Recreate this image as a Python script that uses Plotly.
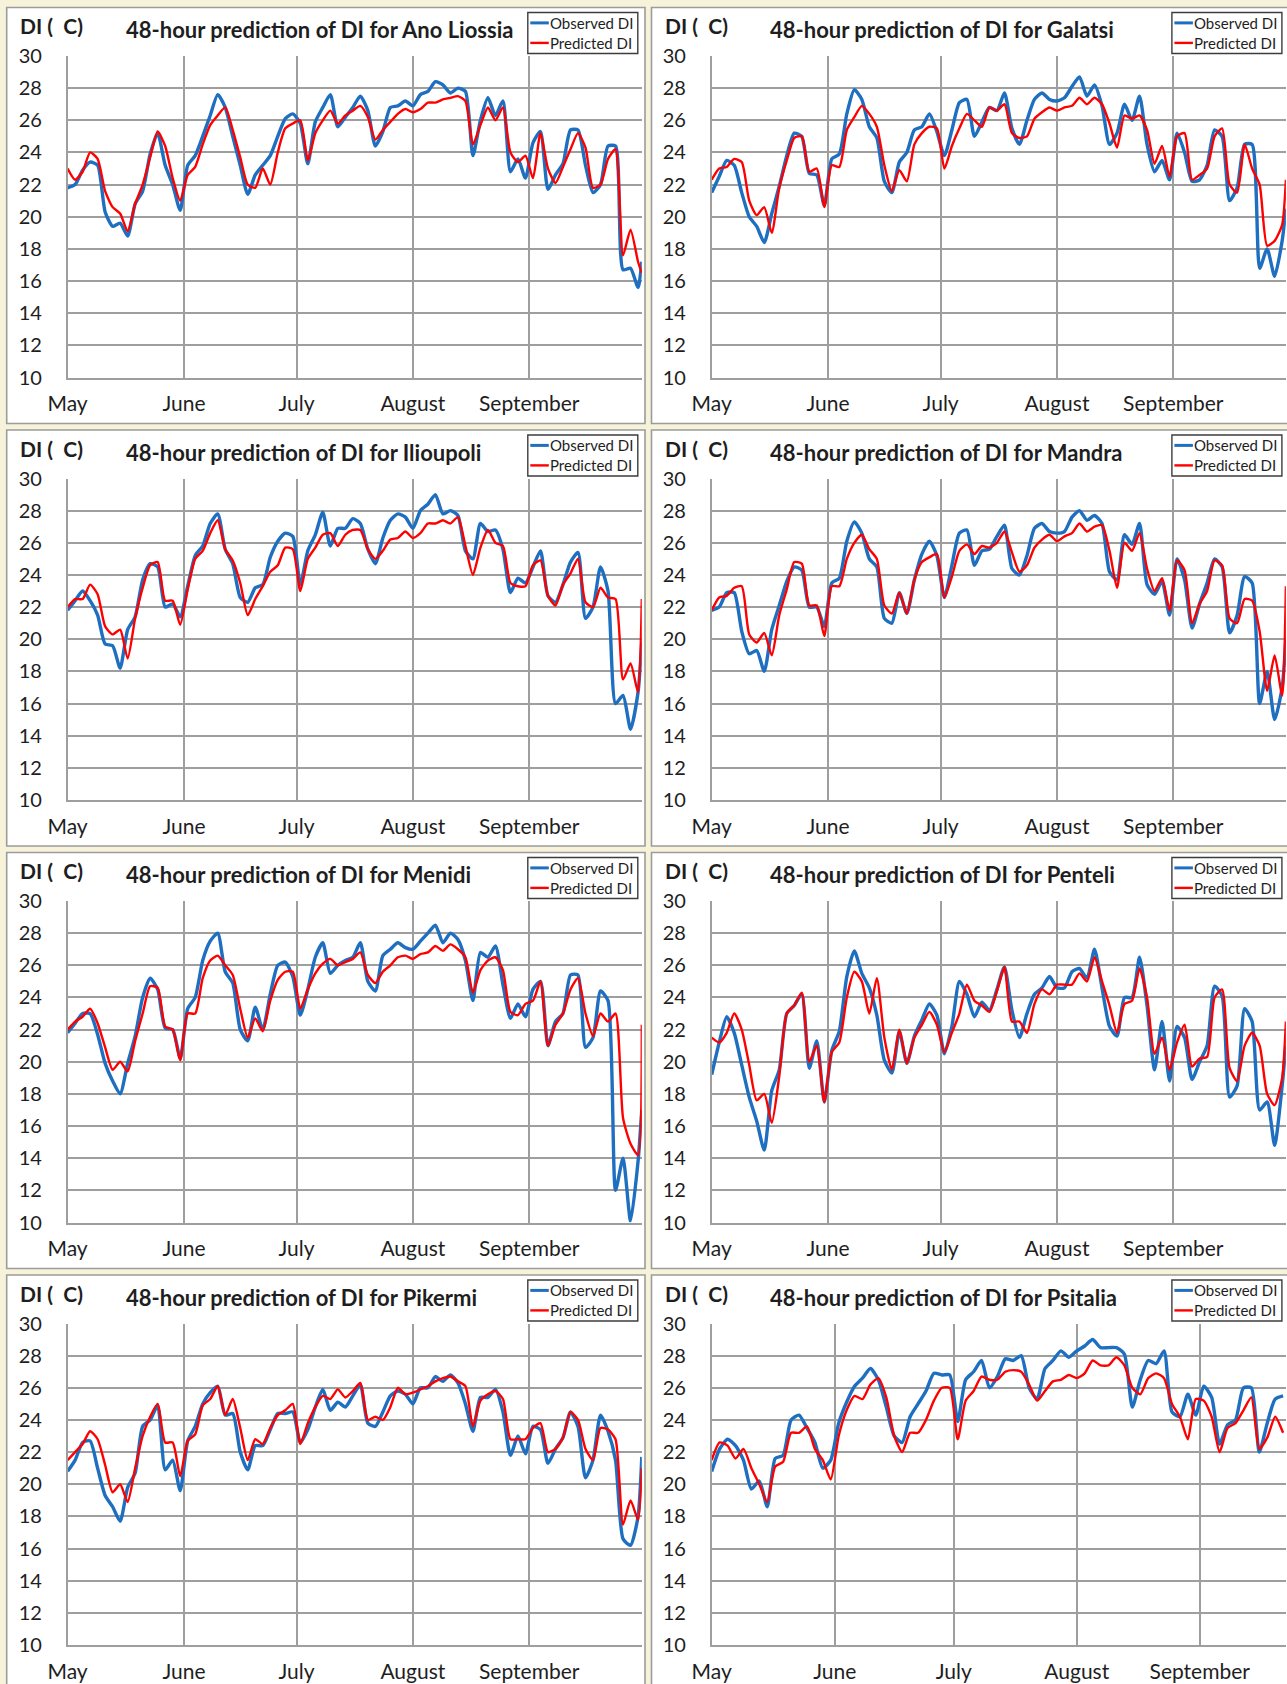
import pandas as pd
import plotly.graph_objects as go

# ---------------------------------------------------------------- data
SEASON_START = "2011-05-01"
MONTH_TICKS = ["2011-05-01", "2011-06-01", "2011-07-01", "2011-08-01", "2011-09-01"]
MONTH_LABELS = ["May", "June", "July", "August", "September"]
Y_TICKS = [10, 12, 14, 16, 18, 20, 22, 24, 26, 28, 30]

# sampling days counted from 1 May (every second day; last one is 1 October)
DAYS_FULL = list(range(0, 153, 2)) + [153]
DAYS_PSITALIA = list(range(0, 145, 2))

ano_obs = [21.8, 22.0, 22.9, 23.4, 23.2, 20.3, 19.4, 19.6, 18.8, 20.8,
           21.6, 23.9, 25.2, 23.2, 22.0, 20.4, 23.2, 23.8, 25.0, 26.3,
           27.6, 26.8, 25.0, 23.2, 21.4, 22.6, 23.2, 23.8, 25.0, 26.1,
           26.4, 25.8, 23.3, 25.9, 26.8, 27.6, 25.6, 26.2, 26.8, 27.5,
           26.6, 24.4, 25.3, 26.8, 26.9, 27.2, 26.9, 27.6, 27.8, 28.4,
           28.2, 27.7, 28.0, 27.8, 23.8, 26.0, 27.4, 26.3, 27.2, 22.8,
           23.6, 22.4, 24.6, 25.3, 21.7, 22.6, 23.3, 25.4, 25.4, 23.2,
           21.5, 22.0, 24.4, 24.4, 16.7, 16.8, 15.6, 17.2]
ano_pred = [23.0, 22.3, 22.8, 24.0, 23.6, 21.6, 20.6, 20.2, 19.1, 20.8,
            22.0, 23.7, 25.3, 24.4, 22.4, 21.0, 22.6, 23.1, 24.5, 25.7,
            26.3, 26.8, 25.4, 23.7, 22.0, 21.8, 23.0, 22.0, 24.0, 25.5,
            25.8, 26.0, 23.5, 25.2, 26.0, 26.6, 25.8, 26.3, 26.6, 26.9,
            26.2, 24.8, 25.4, 25.9, 26.4, 26.7, 26.5, 26.7, 27.1, 27.1,
            27.3, 27.4, 27.5, 27.2, 24.5, 25.7, 26.8, 26.0, 26.8, 24.0,
            23.4, 23.8, 22.4, 25.2, 23.0, 22.1, 23.1, 24.2, 25.2, 24.3,
            21.8, 22.0, 23.6, 24.2, 17.6, 19.2, 17.2, 16.5]

galatsi_obs = [21.5, 22.5, 23.5, 23.2, 21.5, 20.0, 19.4, 18.4, 20.2, 21.9,
               23.8, 25.2, 25.0, 22.7, 22.6, 20.7, 23.6, 23.9, 26.4, 27.9,
               27.3, 25.6, 24.9, 22.2, 21.5, 23.4, 24.0, 25.4, 25.6, 26.4,
               25.3, 23.8, 25.4, 27.1, 27.3, 25.0, 25.9, 26.8, 26.6, 27.7,
               25.5, 24.5, 26.0, 27.3, 27.7, 27.3, 27.2, 27.4, 28.1, 28.7,
               27.5, 28.2, 26.9, 24.5, 25.2, 27.0, 26.0, 27.5, 24.5, 22.8,
               23.5, 22.3, 25.2, 24.0, 22.2, 22.3, 23.2, 25.4, 25.0, 21.0,
               21.8, 24.5, 24.5, 16.8, 18.0, 16.3, 18.5, 20.5]
galatsi_pred = [22.3, 23.0, 23.1, 23.6, 23.4, 21.0, 20.1, 20.6, 19.0, 21.8,
                23.5, 24.9, 25.0, 22.8, 23.0, 20.6, 23.2, 23.1, 25.4, 26.2,
                26.9, 26.4, 25.6, 23.2, 21.6, 22.9, 22.2, 24.5, 25.2, 25.6,
                25.5, 23.0, 24.4, 25.5, 26.4, 26.0, 25.6, 26.8, 26.6, 27.0,
                25.2, 24.9, 25.0, 26.1, 26.5, 26.8, 26.6, 26.8, 26.9, 27.4,
                27.0, 27.4, 27.0, 25.8, 24.3, 26.3, 26.1, 26.3, 25.4, 23.3,
                24.4, 22.5, 25.0, 25.2, 22.3, 22.6, 23.0, 25.0, 25.5, 22.0,
                21.5, 24.5, 23.0, 22.0, 18.2, 18.5, 19.5, 22.3]

ilioupoli_obs = [21.8, 22.4, 23.0, 22.4, 21.5, 19.7, 19.6, 18.2, 20.6, 21.4,
                 23.7, 24.7, 24.5, 22.0, 22.2, 21.4, 23.3, 25.2, 25.8, 27.2,
                 27.8, 25.6, 24.7, 22.6, 22.3, 23.2, 23.4, 25.1, 26.1, 26.6,
                 26.4, 23.4, 25.5, 26.5, 27.9, 25.8, 26.9, 26.9, 27.5, 27.2,
                 25.6, 24.7, 26.3, 27.4, 27.8, 27.6, 26.9, 28.0, 28.4, 29.0,
                 27.8, 28.0, 27.7, 25.5, 25.0, 27.2, 26.7, 26.8, 25.6, 22.9,
                 23.8, 23.5, 24.5, 25.5, 22.7, 22.3, 23.4, 24.8, 25.4, 21.3,
                 22.0, 24.5, 23.0, 16.0, 16.5, 14.4, 16.7, 19.8]
ilioupoli_pred = [22.0, 22.5, 22.5, 23.4, 22.8, 20.8, 20.3, 20.6, 18.8, 21.3,
                  23.2, 24.6, 24.8, 22.4, 22.4, 20.9, 23.1, 25.0, 25.5, 26.6,
                  27.4, 25.6, 24.9, 23.5, 21.5, 22.5, 23.3, 24.2, 24.6, 25.7,
                  25.6, 23.0, 25.0, 25.7, 26.5, 26.6, 25.8, 26.5, 26.8, 26.8,
                  25.6, 25.0, 25.5, 26.2, 26.3, 26.7, 26.3, 26.6, 27.2, 27.2,
                  27.4, 27.2, 27.6, 25.8, 24.0, 25.7, 26.8, 26.0, 25.8, 23.5,
                  23.3, 23.3, 24.6, 24.9, 22.7, 22.1, 23.4, 24.1, 25.0, 22.3,
                  22.0, 23.2, 22.6, 22.5, 17.5, 18.5, 16.7, 22.5]

mandra_obs = [21.8, 22.0, 22.9, 22.9, 20.5, 19.1, 19.3, 18.0, 20.6, 22.1,
              23.6, 24.5, 24.3, 22.0, 22.0, 20.8, 23.5, 23.8, 26.1, 27.3,
              26.6, 25.0, 24.5, 21.3, 21.0, 22.9, 21.6, 23.7, 25.3, 26.1,
              25.2, 22.6, 24.6, 26.6, 26.8, 24.6, 25.5, 25.6, 26.4, 27.1,
              24.4, 24.0, 25.2, 26.9, 27.2, 26.7, 26.6, 26.7, 27.6, 28.0,
              27.4, 27.7, 27.2, 24.2, 23.7, 26.5, 25.9, 27.2, 23.4, 22.8,
              23.6, 21.5, 25.0, 23.7, 20.7, 22.2, 23.5, 25.0, 24.5, 20.4,
              21.5, 23.9, 23.5, 16.0, 18.0, 15.0, 17.0, 20.0]
mandra_pred = [21.8, 22.6, 22.7, 23.2, 23.3, 20.3, 19.8, 20.4, 19.0, 21.5,
               23.1, 24.8, 24.7, 22.1, 22.1, 20.2, 23.3, 23.3, 25.0, 26.0,
               26.5, 25.6, 25.0, 22.1, 21.6, 22.9, 21.6, 23.7, 24.8, 25.1,
               25.3, 22.6, 23.9, 25.5, 25.9, 25.3, 25.8, 25.7, 26.0, 26.7,
               25.4, 24.2, 24.6, 25.7, 26.2, 26.5, 26.1, 26.4, 26.6, 27.2,
               26.7, 27.0, 27.1, 25.5, 23.2, 26.0, 25.5, 26.6, 24.4, 23.0,
               23.8, 21.8, 24.9, 24.3, 21.0, 22.2, 23.0, 24.9, 24.6, 21.3,
               21.0, 22.5, 22.4, 20.5, 16.8, 19.0, 16.5, 23.3]

menidi_obs = [21.8, 22.4, 23.0, 23.0, 21.7, 19.9, 18.8, 18.0, 19.9, 21.6,
              24.0, 25.2, 24.5, 22.1, 22.0, 20.2, 23.3, 24.0, 26.3, 27.5,
              28.0, 25.6, 24.9, 22.0, 21.3, 23.4, 22.0, 24.2, 26.0, 26.2,
              25.3, 22.9, 24.5, 26.5, 27.4, 25.5, 26.0, 26.3, 26.5, 27.4,
              25.0, 24.4, 26.6, 27.0, 27.4, 27.1, 27.0, 27.5, 28.0, 28.5,
              27.4, 28.0, 27.6, 26.3, 23.8, 26.8, 26.5, 27.2, 24.8, 22.7,
              23.6, 22.8, 24.5, 25.0, 21.0, 22.5, 23.0, 25.4, 25.4, 20.9,
              21.5, 24.4, 23.8, 12.0, 14.0, 10.1, 13.8, 17.0]
menidi_pred = [22.0, 22.5, 22.8, 23.3, 22.4, 20.9, 19.5, 20.0, 19.4, 21.3,
               23.0, 24.7, 24.6, 22.2, 22.0, 20.1, 23.0, 23.0, 25.2, 26.3,
               26.6, 26.0, 25.4, 23.3, 21.5, 22.7, 21.9, 23.8, 25.1, 25.6,
               25.6, 23.3, 24.5, 25.5, 26.1, 26.4, 26.0, 26.2, 26.4, 26.8,
               25.4, 24.9, 25.6, 26.0, 26.5, 26.6, 26.4, 26.7, 26.8, 27.2,
               26.9, 27.3, 27.0, 26.5, 24.3, 25.7, 26.3, 26.5, 25.7, 23.1,
               22.9, 23.6, 23.8, 25.0, 21.0, 22.3, 23.0, 24.5, 25.2, 23.0,
               21.6, 23.0, 22.5, 23.0, 16.5, 14.9, 14.2, 22.3]

penteli_obs = [19.2, 21.2, 22.8, 21.8, 19.8, 17.8, 16.3, 14.5, 18.2, 19.5,
               23.0, 23.5, 24.2, 19.6, 21.3, 17.5, 20.7, 21.9, 25.3, 26.9,
               25.5, 24.6, 22.9, 20.1, 19.3, 21.9, 19.9, 21.6, 22.6, 23.6,
               22.9, 20.5, 22.2, 25.0, 24.2, 22.8, 23.7, 23.2, 24.5, 25.9,
               23.2, 21.5, 23.0, 24.2, 24.6, 25.3, 24.6, 24.6, 25.6, 25.8,
               25.2, 27.0, 24.6, 22.2, 21.6, 24.0, 24.0, 26.5, 23.5, 19.5,
               22.5, 18.8, 22.2, 21.5, 18.9, 20.0, 21.0, 24.7, 24.1, 17.8,
               18.5, 23.3, 22.5, 17.0, 17.5, 14.8, 18.5, 21.0]
penteli_pred = [21.5, 21.2, 21.8, 23.0, 22.0, 19.8, 17.6, 18.0, 16.2, 19.1,
                23.0, 23.5, 24.3, 20.0, 21.0, 17.5, 20.6, 21.2, 24.0, 25.6,
                25.0, 23.0, 25.2, 21.5, 19.5, 22.0, 19.9, 21.5, 22.3, 23.1,
                22.3, 20.6, 21.8, 23.0, 24.8, 23.8, 23.5, 23.1, 24.4, 25.9,
                22.5, 22.5, 21.8, 23.6, 24.5, 24.2, 24.8, 24.8, 24.8, 25.5,
                25.0, 26.5, 25.0, 23.5, 21.8, 23.6, 23.8, 25.8, 24.0, 20.5,
                21.5, 19.5, 21.2, 22.3, 19.7, 20.2, 20.3, 24.0, 24.5, 19.6,
                18.8, 21.0, 21.8, 21.0, 18.0, 17.3, 19.0, 22.5]

pikermi_obs = [20.8, 21.5, 22.6, 22.7, 21.0, 19.3, 18.6, 17.7, 19.8, 20.7,
               23.6, 24.0, 24.9, 20.9, 21.5, 19.6, 22.7, 23.6, 25.0, 25.7,
               26.1, 24.3, 24.4, 22.0, 20.9, 22.4, 22.4, 23.4, 24.4, 24.4,
               24.5, 22.6, 23.4, 24.8, 25.9, 24.6, 25.1, 24.8, 25.5, 26.2,
               23.8, 23.6, 24.5, 25.5, 25.8, 25.6, 25.0, 26.0, 26.0, 26.7,
               26.4, 26.8, 26.3, 25.0, 23.3, 25.4, 25.4, 25.9, 24.5, 21.8,
               23.0, 21.9, 23.6, 23.4, 21.3, 22.2, 22.9, 24.5, 23.6, 20.4,
               21.5, 24.3, 23.3, 21.5, 16.6, 16.2, 18.0, 21.7]
pikermi_pred = [21.5, 22.0, 22.5, 23.3, 22.8, 21.2, 19.5, 20.0, 18.9, 21.0,
                23.0, 24.2, 25.0, 22.6, 22.6, 20.5, 22.7, 23.1, 24.9, 25.3,
                26.1, 24.3, 25.3, 23.5, 21.5, 22.8, 22.5, 23.5, 24.3, 24.6,
                25.0, 22.5, 23.8, 24.8, 25.5, 25.3, 25.9, 25.4, 25.8, 26.3,
                24.0, 24.2, 24.0, 24.8, 26.0, 25.6, 25.7, 25.9, 26.1, 26.4,
                26.6, 26.7, 26.4, 26.1, 23.6, 25.2, 25.6, 25.8, 25.3, 22.8,
                22.8, 22.8, 23.5, 23.8, 22.0, 22.2, 22.9, 24.5, 24.0, 22.2,
                21.5, 23.5, 23.4, 22.8, 17.5, 19.0, 17.8, 21.0]

psitalia_obs = [20.8, 22.2, 22.8, 22.4, 21.5, 19.7, 20.2, 18.6, 21.6, 21.8,
                24.0, 24.3, 23.5, 22.6, 21.0, 21.5, 23.8, 25.1, 26.1, 26.6,
                27.2, 26.5, 24.8, 23.0, 22.6, 24.2, 25.0, 25.8, 26.9, 26.8,
                26.8, 23.9, 26.5, 27.0, 27.7, 26.0, 26.7, 27.8, 27.7, 28.0,
                26.0, 25.3, 27.2, 27.7, 28.3, 27.9, 28.3, 28.6, 29.0, 28.5,
                28.5, 28.5, 28.1, 24.8, 26.5, 27.7, 27.5, 28.3, 24.5, 24.2,
                25.6, 24.3, 26.1, 25.4, 22.5, 23.7, 24.0, 26.0, 26.0, 22.0,
                23.8, 25.3, 25.5]
psitalia_pred = [21.5, 22.6, 22.4, 21.6, 22.2, 21.0, 20.0, 18.9, 21.1, 21.4,
                 23.2, 23.2, 23.6, 22.2, 21.5, 20.3, 23.0, 24.6, 25.5, 25.3,
                 26.2, 26.6, 25.4, 23.0, 22.0, 23.2, 23.2, 24.0, 25.2, 26.0,
                 26.0, 22.8, 25.2, 25.8, 26.7, 26.5, 26.5, 27.0, 27.1, 27.0,
                 26.2, 25.2, 25.8, 26.4, 26.5, 26.8, 26.6, 26.9, 27.7, 27.4,
                 27.4, 27.9, 27.4, 26.0, 25.6, 26.6, 26.9, 26.6, 25.0, 24.2,
                 22.8, 25.3, 25.2, 24.2, 22.0, 23.5, 23.8, 24.6, 25.4, 22.2,
                 22.9, 24.2, 23.2]

STATIONS = ["Ano Liossia", "Galatsi", "Ilioupoli", "Mandra",
            "Menidi", "Penteli", "Pikermi", "Psitalia"]
OBSERVED = [ano_obs, galatsi_obs, ilioupoli_obs, mandra_obs,
            menidi_obs, penteli_obs, pikermi_obs, psitalia_obs]
PREDICTED = [ano_pred, galatsi_pred, ilioupoli_pred, mandra_pred,
             menidi_pred, penteli_pred, pikermi_pred, psitalia_pred]
SAMPLE_DAYS = [DAYS_FULL] * 7 + [DAYS_PSITALIA]
AXIS_END = ["2011-10-01"] * 7 + ["2011-09-22 17:00"]

for obs, pred, days in zip(OBSERVED, PREDICTED, SAMPLE_DAYS):
    assert len(obs) == len(days) and len(pred) == len(days)

# ---------------------------------------------------------------- layout
W, H = 1287, 1684
BLUE, RED = "#1f6fc1", "#ff0000"
GRID = "#9e9e9e"
TEXT = "#1e1e1e"
FONT = "Lato"

PLOT_X = [(67.6, 641.8), (711.7, 1285.9)]
FRAME_X = [(6.7, 645.0), (651.5, 1296.0)]
FRAME_TOP = [7.5, 430.0, 852.5, 1275.0]
FRAME_H = 416.0
PLOT_OFFSET, PLOT_H = 48.5, 321.5


def px(v):
    return v / W


def py(v):
    return 1 - v / H


fig = go.Figure()
shapes, annotations = [], []
start = pd.Timestamp(SEASON_START)

for i, name in enumerate(STATIONS):
    row, col = divmod(i, 2)
    n = i + 1
    sfx = "" if n == 1 else str(n)
    x0, x1 = PLOT_X[col]
    top = FRAME_TOP[row]
    ptop = top + PLOT_OFFSET
    dates = start + pd.to_timedelta(SAMPLE_DAYS[i], unit="D")

    # panel frame
    fx0, fx1 = FRAME_X[col]
    shapes.append(dict(type="rect", xref="paper", yref="paper", layer="below",
                       x0=px(fx0), x1=px(fx1), y0=py(top + FRAME_H), y1=py(top),
                       fillcolor="white", line=dict(color="#9c9c9c", width=1.6)))

    fig.add_trace(go.Scatter(x=dates, y=OBSERVED[i], mode="lines", name="Observed DI",
                             line=dict(color=BLUE, width=3.4, shape="spline", smoothing=0.6),
                             xaxis="x" + sfx, yaxis="y" + sfx, showlegend=False))
    fig.add_trace(go.Scatter(x=dates, y=PREDICTED[i], mode="lines", name="Predicted DI",
                             line=dict(color=RED, width=2.4, shape="spline", smoothing=0.6),
                             xaxis="x" + sfx, yaxis="y" + sfx, showlegend=False))

    fig.layout["xaxis" + sfx] = dict(
        domain=[px(x0), px(x1)], anchor="y" + sfx, type="date",
        range=[SEASON_START, AXIS_END[i]], tickmode="array",
        tickvals=MONTH_TICKS, ticktext=MONTH_LABELS,
        showgrid=True, gridcolor=GRID, gridwidth=1.5,
        showline=True, linecolor=GRID, linewidth=1.5, zeroline=False,
        ticks="", ticklabelstandoff=7, automargin=False,
        tickfont=dict(family=FONT, size=21, color=TEXT), fixedrange=True)
    fig.layout["yaxis" + sfx] = dict(
        domain=[py(ptop + PLOT_H), py(ptop)], anchor="x" + sfx,
        range=[10, 30], tickmode="array", tickvals=Y_TICKS,
        showgrid=True, gridcolor=GRID, gridwidth=1.5,
        showline=True, linecolor=GRID, linewidth=1.5, zeroline=False,
        ticks="", ticklabelstandoff=20, automargin=False,
        tickfont=dict(family=FONT, size=20, color=TEXT), fixedrange=True)

    # unit label and title
    annotations.append(dict(xref="paper", yref="paper", x=px(fx0 + 11.5), y=py(top + 18.0),
                            xanchor="left", yanchor="middle", showarrow=False,
                            text="DI (\u00a0\u00a0C)",
                            font=dict(family=FONT, size=21, color=TEXT, weight="bold")))
    annotations.append(dict(xref="paper", yref="paper", x=px(x0 + 56.5), y=py(top + 22.0),
                            xanchor="left", yanchor="middle", showarrow=False,
                            text="48-hour prediction of DI for " + name,
                            font=dict(family=FONT, size=22, color=TEXT, weight="bold")))

    # legend box
    bx0, bx1 = x1 - 114.0, x1 - 4.0
    shapes.append(dict(type="rect", xref="paper", yref="paper",
                       x0=px(bx0), x1=px(bx1), y0=py(top + 46.0), y1=py(top + 5.0),
                       fillcolor="white", line=dict(color="#3c3c3c", width=1.4)))
    for k, (label, color, w) in enumerate([("Observed DI", BLUE, 3.0), ("Predicted DI", RED, 2.4)]):
        ly = top + 15.4 + 20.0 * k
        shapes.append(dict(type="line", xref="paper", yref="paper",
                           x0=px(bx0 + 2.5), x1=px(bx0 + 21.0), y0=py(ly), y1=py(ly),
                           line=dict(color=color, width=w)))
        annotations.append(dict(xref="paper", yref="paper", x=px(bx0 + 20.5), y=py(ly),
                                xanchor="left", yanchor="middle", showarrow=False,
                                text=label, font=dict(family=FONT, size=15, color=TEXT)))

fig.update_layout(width=W, height=H, autosize=False,
                  margin=dict(l=0, r=0, t=0, b=0, pad=0, autoexpand=False),
                  paper_bgcolor="#f6f3da", plot_bgcolor="white",
                  shapes=shapes, annotations=annotations, showlegend=False)

fig.write_html("out.html", config={"displayModeBar": False},
               post_script="document.body.style.margin='0';")
